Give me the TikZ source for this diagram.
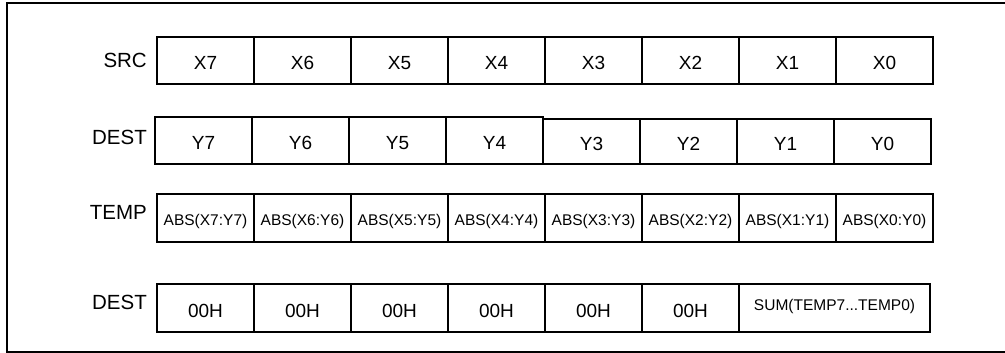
\documentclass[tikz,border=0pt]{standalone}
\usepackage{fontspec}
\setmainfont{Liberation Sans}
\begin{document}
\begin{tikzpicture}[x=1pt, y=-1pt,
    cell/.style={draw, line width=1.2pt, rectangle, inner sep=0pt,
                 minimum width=97pt, minimum height=47pt,
                 text height=18.5pt, text depth=0pt,
                 font=\fontsize{19}{22}\selectfont},
    smallcell/.style={cell, minimum height=48pt, text height=15.1pt,
                 font=\fontsize{15.5}{18}\selectfont},
    rowlabel/.style={anchor=east, inner sep=0pt, font=\fontsize{20.5}{24}\selectfont}]
            \useasboundingbox (0,0) rectangle (1005,353);

            % Draw the open frame
            \coordinate (ftr) at (1005,3);
            \coordinate (ftl) at (7,3);
            \coordinate (fbl) at (7,352);
            \coordinate (fbr) at (1005,352);
            \draw[line width=1.2pt] (ftr) -- (ftl) -- (fbl) -- (fbr);

            % Draw row labels
            \node[rowlabel] (lsrc) at (147, 60.5) {SRC};
            \node[rowlabel] (ldest) at (147, 137) {DEST};
            \node[rowlabel] (ltemp) at (147, 212) {TEMP};
            \node[rowlabel] (lres) at (147, 302) {DEST};

            % Draw cells for SRC
            \node[cell] (x7) at (205.5, 60.5) {X7};
            \node[cell] (x6) at (302.5, 60.5) {X6};
            \node[cell] (x5) at (399.5, 60.5) {X5};
            \node[cell] (x4) at (496.5, 60.5) {X4};
            \node[cell] (x3) at (593.5, 60.5) {X3};
            \node[cell] (x2) at (690.5, 60.5) {X2};
            \node[cell] (x1) at (787.5, 60.5) {X1};
            \node[cell] (x0) at (884.5, 60.5) {X0};

            % Draw cells for DEST
            \node[cell] (y7) at (203.5, 140.5) {Y7};
            \node[cell] (y6) at (300.5, 140.5) {Y6};
            \node[cell] (y5) at (397.5, 140.5) {Y5};
            \node[cell] (y4) at (494.5, 140.5) {Y4};
            \node[cell, minimum height=45pt] (y3) at (591.5, 141.5) {Y3};
            \node[cell, minimum height=45pt] (y2) at (688.5, 141.5) {Y2};
            \node[cell, minimum height=45pt] (y1) at (785.5, 141.5) {Y1};
            \node[cell, minimum height=45pt] (y0) at (882.5, 141.5) {Y0};

            % Draw cells for TEMP
            \node[smallcell] (t7) at (205.5, 218) {ABS(X7:Y7)};
            \node[smallcell] (t6) at (302.5, 218) {ABS(X6:Y6)};
            \node[smallcell] (t5) at (399.5, 218) {ABS(X5:Y5)};
            \node[smallcell] (t4) at (496.5, 218) {ABS(X4:Y4)};
            \node[smallcell] (t3) at (593.5, 218) {ABS(X3:Y3)};
            \node[smallcell] (t2) at (690.5, 218) {ABS(X2:Y2)};
            \node[smallcell] (t1) at (787.5, 218) {ABS(X1:Y1)};
            \node[smallcell] (t0) at (884.5, 218) {ABS(X0:Y0)};

            % Draw cells for the result
            \node[cell, minimum height=48pt] (r7) at (205.5, 308) {00H};
            \node[cell, minimum height=48pt] (r6) at (302.5, 308) {00H};
            \node[cell, minimum height=48pt] (r5) at (399.5, 308) {00H};
            \node[cell, minimum height=48pt] (r4) at (496.5, 308) {00H};
            \node[cell, minimum height=48pt] (r3) at (593.5, 308) {00H};
            \node[cell, minimum height=48pt] (r2) at (690.5, 308) {00H};
            \node[smallcell, minimum width=191pt, text height=11.1pt, text depth=6pt] (rsum) at (834.5, 308) {SUM(TEMP7...TEMP0)};

        \end{tikzpicture}
\end{document}
